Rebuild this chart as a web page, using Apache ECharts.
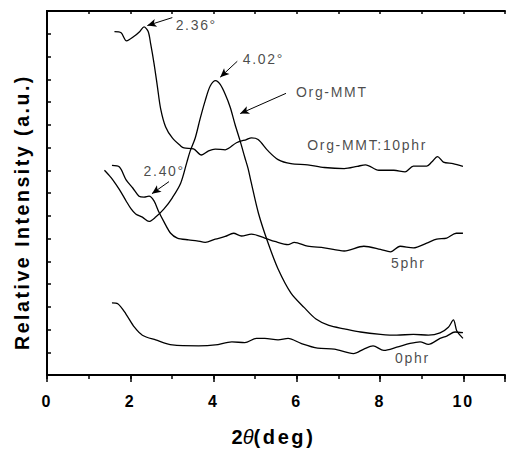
<!DOCTYPE html>
<html>
<head>
<meta charset="utf-8">
<script src="https://cdn.jsdelivr.net/npm/echarts@6/dist/echarts.min.js"></script>
<style>
  html, body { margin: 0; padding: 0; background: #fff; }
  #main { width: 508px; height: 452px; }
  /* spaced lettering like the original export (only texts using the Arial stack) */
  #main text[style*="Arial"] { letter-spacing: 0.12em; }
  #main text[style*="Arial"][style*="bold"] { letter-spacing: 0.13em; }
</style>
</head>
<body>
<div id="main"></div>
<script>
// 2theta (deg) vs relative intensity
var orgMMT = [[1.38,9.0],[1.48,8.8],[1.58,8.58],[1.74,8.15],[1.90,7.65],[2.02,7.3],[2.13,7.08],[2.29,6.94],[2.45,6.75],[2.61,6.94],[2.81,7.3],[3.01,7.79],[3.21,8.43],[3.36,9.36],[3.44,9.85],[3.56,10.42],[3.68,11.28],[3.80,12.06],[3.92,12.7],[4.05,12.94],[4.16,12.77],[4.28,12.34],[4.40,11.77],[4.52,10.99],[4.64,10.28],[4.75,9.57],[4.83,9.07],[4.90,8.5],[5.08,7.1],[5.31,5.8],[5.55,4.66],[5.86,3.6],[6.18,2.96],[6.46,2.46],[6.77,2.18],[7.14,2.03],[7.53,1.89],[8.01,1.79],[8.40,1.75],[8.80,1.79],[9.16,1.75],[9.44,1.85],[9.64,2.1],[9.76,2.42],[9.84,1.95],[9.92,1.75],[9.99,1.61]];
var phr10 = [[1.62,15.09],[1.78,15.04],[1.91,14.69],[2.10,14.9],[2.23,15.1],[2.33,15.3],[2.43,15.1],[2.49,14.55],[2.57,13.7],[2.65,12.7],[2.73,11.7],[2.85,10.9],[3.01,10.42],[3.21,10.07],[3.29,9.98],[3.52,9.94],[3.71,9.67],[3.88,9.85],[4.04,9.93],[4.28,9.9],[4.55,10.21],[4.79,10.35],[4.91,10.42],[5.07,10.35],[5.31,9.85],[5.55,9.47],[5.86,9.29],[6.26,9.24],[6.66,9.12],[7.14,9.07],[7.45,9.17],[7.65,9.24],[7.97,9.0],[8.33,9.0],[8.60,8.93],[8.80,9.18],[9.12,9.18],[9.24,9.36],[9.38,9.6],[9.52,9.36],[9.75,9.29],[9.99,9.17]];
var phr5 = [[1.56,9.21],[1.74,9.14],[1.90,8.58],[2.06,8.22],[2.21,7.86],[2.33,7.82],[2.45,7.86],[2.57,7.65],[2.69,7.15],[2.81,6.73],[2.97,6.23],[3.13,6.02],[3.40,5.94],[3.60,5.9],[3.80,5.83],[4.04,5.97],[4.28,6.09],[4.48,6.23],[4.67,6.11],[4.91,6.19],[5.23,6.02],[5.47,5.87],[5.79,5.73],[5.94,5.83],[6.26,5.66],[6.66,5.59],[7.14,5.45],[7.61,5.66],[8.01,5.52],[8.25,5.41],[8.48,5.66],[8.80,5.59],[9.12,5.80],[9.36,5.97],[9.6,6.02],[9.83,6.23],[9.99,6.23]];
var phr0 = [[1.56,3.17],[1.70,3.13],[1.90,2.67],[2.10,2.10],[2.29,1.75],[2.61,1.54],[3.01,1.32],[3.64,1.28],[4.04,1.32],[4.44,1.46],[4.75,1.42],[5.03,1.61],[5.23,1.61],[5.55,1.54],[5.79,1.61],[6.10,1.39],[6.5,1.18],[6.90,1.14],[7.36,0.94],[7.61,1.14],[7.83,1.28],[8.09,1.08],[8.40,1.22],[8.72,1.39],[8.96,1.46],[9.16,1.35],[9.44,1.61],[9.60,1.71],[9.80,1.89],[9.99,1.86]];

// text notes and arrows (data coords)
var noteText = ['2.36°', '4.02°', 'Org-MMT', 'Org-MMT:10phr', '2.40°', '5phr', '0phr'];
var notePos = [[3.09,15.38],[4.70,13.87],[5.98,12.46],[6.25,10.12],[2.32,8.96],[8.26,4.93],[8.36,0.75]];
var arrowFrom = [[3.01,15.71],[4.57,13.79],[5.74,12.38],[2.93,8.50]];
var arrowTo = [[2.41,15.36],[4.16,13.09],[4.64,11.49],[2.52,7.97]];

var xTicks = [0, 2, 4, 6, 8, 10];
var FONT = '"Liberation Sans", Arial, sans-serif';
var FONT_TIGHT = '"Liberation Sans", sans-serif';

var chart = echarts.init(document.getElementById('main'), null, {renderer: 'svg'});

function curve(name, data) {
    return {
        name: name,
        type: 'line',
        data: data,
        showSymbol: false,
        symbol: 'none',
        smooth: 0.3,
        lineStyle: {color: '#000', width: 1.3},
        silent: true
    };
}

var notes = notePos.map(function (p, i) {
    return {value: p, name: noteText[i]};
});
var arrows = arrowFrom.map(function (p, i) {
    return [{coord: p}, {coord: arrowTo[i]}];
});

var option = {
    animation: false,
    backgroundColor: '#fff',
    grid: {left: 47, top: 11, right: 2, bottom: 66},
    xAxis: [{
        type: 'value', position: 'bottom', min: 0, max: 11, interval: 2,
        splitLine: {show: false},
        axisLine: {lineStyle: {color: '#000', width: 2}},
        axisTick: {inside: false, length: 7, lineStyle: {color: '#000', width: 1.5}},
        axisLabel: {
            color: '#000', fontSize: 16, fontWeight: 'bold', fontFamily: FONT, margin: 18,
            formatter: function (v) { return xTicks.indexOf(v) >= 0 ? String(v) : ''; }
        },
        name: '{t|2}{i|θ}{b|(deg)}',
        nameLocation: 'middle',
        nameGap: 52,
        nameTextStyle: {
            padding: [0, 18, 0, 0],
            rich: {
                t: {align: 'left', fontSize: 20, fontWeight: 'bold', fontFamily: FONT_TIGHT, color: '#000'},
                i: {align: 'left', fontSize: 20, fontStyle: 'italic', fontFamily: FONT_TIGHT, color: '#000'},
                b: {align: 'left', fontSize: 20, fontWeight: 'bold', fontFamily: FONT, color: '#000'}
            }
        }
    }, {
        type: 'value', position: 'bottom', min: 0, max: 11, interval: 1,
        splitLine: {show: false},
        axisLine: {show: false},
        axisTick: {inside: false, length: 4, lineStyle: {color: '#000', width: 1.5}},
        axisLabel: {show: false}
    }, {
        type: 'value', position: 'top', min: 0, max: 11, interval: 1,
        splitLine: {show: false},
        axisLine: {lineStyle: {color: '#000', width: 2}},
        axisTick: {inside: true, length: 3, lineStyle: {color: '#000', width: 1.5}},
        axisLabel: {show: false}
    }],
    yAxis: [{
        type: 'value', position: 'left', min: 0, max: 16, interval: 1,
        splitLine: {show: false},
        axisLine: {lineStyle: {color: '#000', width: 2}},
        axisTick: {inside: true, length: 4, lineStyle: {color: '#000', width: 1.5}},
        axisLabel: {show: false},
        name: 'Relative Intensity (a.u.)',
        nameLocation: 'middle',
        nameGap: 15,
        nameTextStyle: {fontSize: 19.5, fontWeight: 'bold', fontFamily: FONT, color: '#000', padding: [0, 38, 0, 0]}
    }, {
        type: 'value', position: 'right', min: 0, max: 16,
        splitLine: {show: false},
        axisLine: {lineStyle: {color: '#000', width: 2}},
        axisTick: {show: false},
        axisLabel: {show: false}
    }],
    series: [
        curve('Org-MMT', orgMMT),
        curve('Org-MMT:10phr', phr10),
        curve('5phr', phr5),
        curve('0phr', phr0),
        {
            name: 'notes',
            type: 'scatter',
            data: notes,
            symbolSize: 0,
            silent: true,
            label: {
                show: true, position: 'right', distance: 0,
                formatter: '{b}',
                color: '#1a1a1a', fontSize: 14, fontFamily: FONT
            },
            markLine: {
                silent: true,
                symbol: ['none', 'arrow'],
                symbolSize: [6, 9],
                label: {show: false},
                lineStyle: {color: '#000', width: 1, type: 'solid'},
                data: arrows
            }
        }
    ]
};

chart.setOption(option);
</script>
</body>
</html>
